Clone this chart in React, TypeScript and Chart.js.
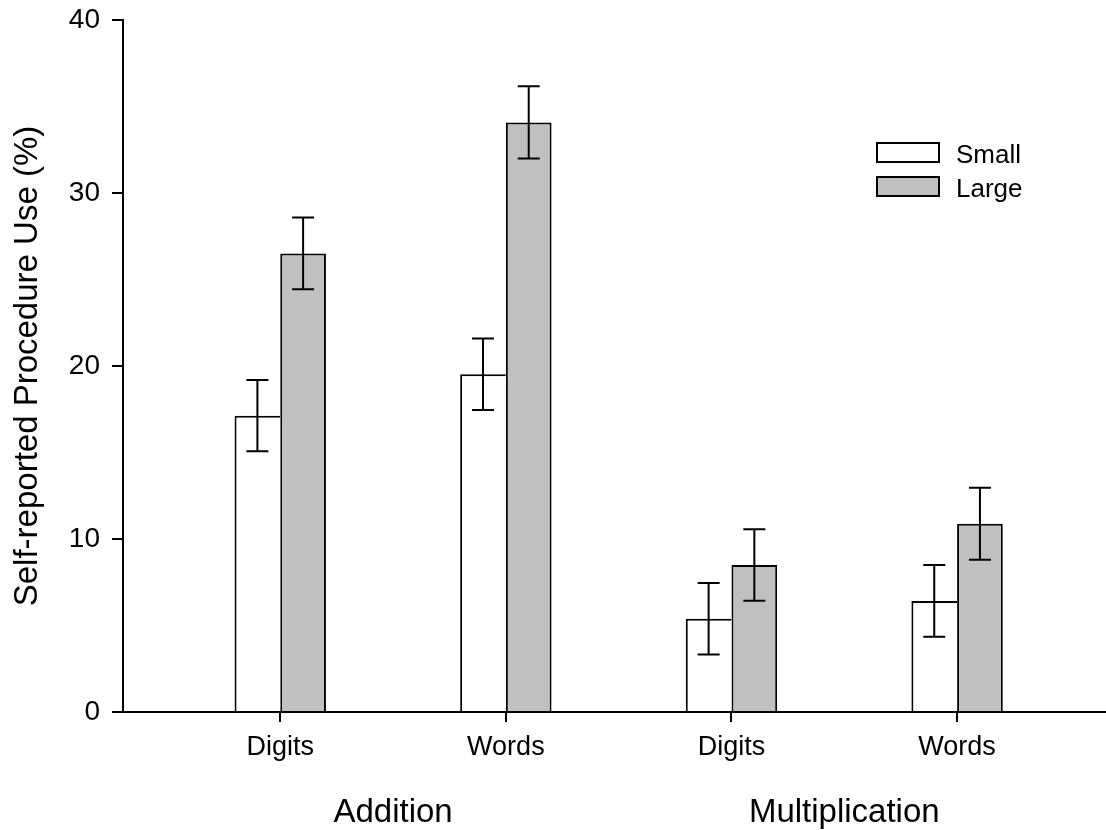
import React, { useEffect, useRef } from "react";
import { Chart, registerables } from "chart.js";

Chart.register(...registerables);

const categories = ["Digits", "Words", "Digits", "Words"];
const groupLabels = ["Addition", "Multiplication"];
const groupCenters = [0.5, 2.5];
const seriesNames = ["Small", "Large"];
const smallValues = [17.13, 19.52, 5.39, 6.42];
const smallErrors = [2.06, 2.07, 2.06, 2.07];
const largeValues = [26.51, 34.08, 8.5, 10.88];
const largeErrors = [2.07, 2.09, 2.07, 2.08];
const yTicks = [0, 10, 20, 30, 40];
const yTitle = "Self-reported Procedure Use (%)";

const FONT = "'Liberation Sans', Arial, Helvetica, sans-serif";
const fills = ["#ffffff", "#c0c0c0"];
const errorsBySeries = [smallErrors, largeErrors];

const errorBarPlugin = {
  id: "errorBars",
  afterDatasetsDraw(chart: any) {
    const ctx = chart.ctx;
    const yScale = chart.scales.y;
    ctx.save();
    ctx.strokeStyle = "#000";
    ctx.lineWidth = 2;
    chart.data.datasets.forEach((ds: any, di: number) => {
      const meta = chart.getDatasetMeta(di);
      meta.data.forEach((bar: any, i: number) => {
        const v = ds.data[i].y;
        const e = errorsBySeries[di][i];
        const x = bar.x;
        const yTop = yScale.getPixelForValue(v + e);
        const yBot = yScale.getPixelForValue(v - e);
        const half = 11;
        ctx.beginPath();
        ctx.moveTo(x, yTop);
        ctx.lineTo(x, yBot);
        ctx.moveTo(x - half, yTop);
        ctx.lineTo(x + half, yTop);
        ctx.moveTo(x - half, yBot);
        ctx.lineTo(x + half, yBot);
        ctx.stroke();
      });
    });
    ctx.restore();
  },
};

const extrasPlugin = {
  id: "extras",
  afterDraw(chart: any) {
    const ctx = chart.ctx;
    const xScale = chart.scales.x;
    ctx.save();
    ctx.fillStyle = "#000";
    ctx.font = `33px ${FONT}`;
    ctx.textAlign = "center";
    ctx.textBaseline = "alphabetic";
    groupLabels.forEach((g, i) => {
      ctx.fillText(g, xScale.getPixelForValue(groupCenters[i]), 822);
    });
    ctx.font = `26px ${FONT}`;
    ctx.textAlign = "left";
    seriesNames.forEach((name, i) => {
      const top = 143 + i * 34;
      ctx.fillStyle = fills[i];
      ctx.fillRect(877, top, 62, 19);
      ctx.strokeStyle = "#000";
      ctx.lineWidth = 2;
      ctx.strokeRect(877, top, 62, 19);
      ctx.fillStyle = "#000";
      ctx.fillText(name, 956, top + 19.5);
    });
    ctx.restore();
  },
};

export default function App() {
  const canvasRef = useRef<HTMLCanvasElement | null>(null);

  useEffect(() => {
    document.body.style.margin = "0";
    const canvas = canvasRef.current;
    if (!canvas) return;
    const chart = new Chart(canvas, {
      type: "bar",
      data: {
        datasets: [
          {
            label: seriesNames[0],
            data: smallValues.map((v, i) => ({ x: i, y: v })),
            backgroundColor: fills[0],
            borderColor: "#000",
            borderWidth: { top: 2, left: 2, right: 0, bottom: 0 },
            borderSkipped: false,
            barThickness: 45.7,
            inflateAmount: 0,
          },
          {
            label: seriesNames[1],
            data: largeValues.map((v, i) => ({ x: i, y: v })),
            backgroundColor: fills[1],
            borderColor: "#000",
            borderWidth: { top: 2, left: 2, right: 2, bottom: 0 },
            borderSkipped: false,
            barThickness: 45.7,
            inflateAmount: 0,
          },
        ],
      },
      options: {
        animation: false,
        responsive: false,
        events: [],
        layout: { padding: { top: 20, right: 0, left: 0, bottom: 0 }, autoPadding: false },
        plugins: {
          legend: { display: false },
          tooltip: { enabled: false },
        },
        scales: {
          x: {
            type: "linear",
            offset: false,
            min: -0.697,
            max: 3.66,
            afterBuildTicks: (scale: any) => {
              scale.ticks = categories.map((_, i) => ({ value: i }));
            },
            afterFit: (scale: any) => {
              scale.height = 118;
              scale.paddingLeft = 0;
              scale.paddingRight = 0;
            },
            ticks: {
              callback: (v: any) => categories[Number(v)] ?? "",
              color: "#000",
              font: { family: FONT, size: 27 },
              padding: 9,
              maxRotation: 0,
              autoSkip: false,
            },
            grid: {
              display: true,
              offset: false,
              drawOnChartArea: false,
              drawTicks: true,
              tickLength: 10,
              color: "#000",
              lineWidth: 2,
            },
            border: { display: true, color: "#000", width: 2 },
          },
          y: {
            min: 0,
            max: 40,
            afterBuildTicks: (scale: any) => {
              scale.ticks = yTicks.map((v) => ({ value: v }));
            },
            afterFit: (scale: any) => {
              scale.width = 123;
              scale.paddingTop = 0;
              scale.paddingBottom = 0;
            },
            ticks: {
              color: "#000",
              font: { family: FONT, size: 28 },
              padding: 12,
            },
            grid: {
              display: true,
              drawOnChartArea: false,
              drawTicks: true,
              tickLength: 11,
              color: "#000",
              lineWidth: 2,
            },
            border: { display: true, color: "#000", width: 2 },
            title: {
              display: true,
              text: yTitle,
              color: "#000",
              font: { family: FONT, size: 33 },
              padding: { top: 8, bottom: 0 },
            },
          },
        },
      },
      plugins: [errorBarPlugin, extrasPlugin],
    } as any);
    return () => chart.destroy();
  }, []);

  return (
    <div style={{ width: 1106, height: 830 }}>
      <canvas ref={canvasRef} width={1106} height={830} />
    </div>
  );
}
